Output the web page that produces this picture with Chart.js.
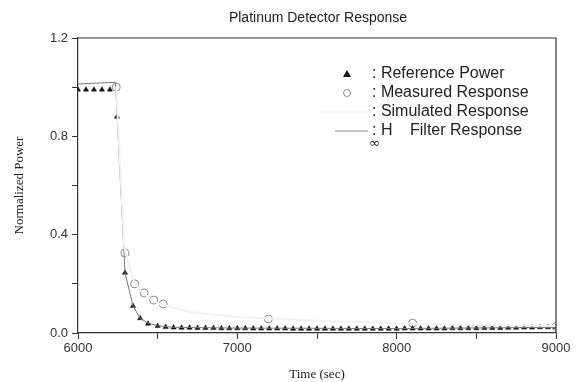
<!DOCTYPE html>
<html>
<head>
<meta charset="utf-8">
<script src="https://cdn.jsdelivr.net/npm/chart.js@4"></script>
<style>
  html, body { margin: 0; padding: 0; background: #fff; }
</style>
</head>
<body>
<canvas id="chart" width="579" height="382"></canvas>
<script>
// Reference power (triangles)
const refTime = [6000, 6050, 6100, 6150, 6200, 6245, 6295, 6345, 6390, 6440, 6500,
  6550, 6600, 6650, 6700, 6750, 6800, 6850, 6900, 6950, 7000,
  7050, 7100, 7150, 7200, 7250, 7300, 7350, 7400, 7450, 7500,
  7550, 7600, 7650, 7700, 7750, 7800, 7850, 7900, 7950, 8000,
  8050, 8100, 8150, 8200, 8250, 8300, 8350, 8400, 8450, 8500,
  8550, 8600, 8650, 8700, 8750, 8800, 8850, 8900, 8950, 9000]
const refPower = [0.99, 0.99, 0.99, 0.99, 0.99, 0.88, 0.245, 0.11, 0.06, 0.038, 0.028,
  0.024, 0.022, 0.021, 0.021, 0.02, 0.02, 0.02, 0.019, 0.019, 0.019,
  0.019, 0.018, 0.018, 0.018, 0.018, 0.018, 0.017, 0.017, 0.017, 0.017,
  0.017, 0.017, 0.017, 0.017, 0.017, 0.017, 0.017, 0.017, 0.017, 0.017,
  0.018, 0.018, 0.018, 0.018, 0.018, 0.018, 0.019, 0.019, 0.019, 0.019,
  0.02, 0.02, 0.02, 0.021, 0.021, 0.022, 0.022, 0.023, 0.023, 0.024]

// Measured response (open circles)
const measTime = [6240, 6295, 6355, 6415, 6475, 6535, 7195, 8100, 9000]
const measPower = [1.0, 0.325, 0.2, 0.163, 0.134, 0.118, 0.057, 0.04, 0.026]

// Simulated response (very faint line)
const simTime = [6240, 6290, 6350, 6400, 6500, 6700, 7000, 7500, 8000, 8500, 9000]
const simPower = [1.0, 0.35, 0.21, 0.165, 0.12, 0.085, 0.065, 0.05, 0.04, 0.033, 0.028]

// H-infinity filter response (solid gray line)
const filterTime = [6000, 6235, 6295, 6345, 6390, 6440, 6500, 6600, 7000, 8000, 9000]
const filterPower = [1.013, 1.02, 0.245, 0.11, 0.06, 0.04, 0.03, 0.023, 0.02, 0.018, 0.023]

const xTicks = [6000, 7000, 8000, 9000]
const yTicks = [0.0, 0.4, 0.8, 1.2]

const pts = (xs, ys) => xs.map((x, i) => ({ x: x, y: ys[i] }))

const frame = {
  id: "frame",
  afterDatasetsDraw(chart) {
    const { ctx, chartArea: a } = chart
    ctx.save()
    ctx.strokeStyle = "#333"
    ctx.lineWidth = 1.2
    ctx.beginPath()
    ctx.moveTo(a.left, a.top)
    ctx.lineTo(a.right, a.top)
    ctx.lineTo(a.right, a.bottom)
    ctx.stroke()

    // title
    ctx.fillStyle = "#222"
    ctx.font = "14px 'Liberation Sans', Arial, sans-serif"
    ctx.textAlign = "center"
    ctx.textBaseline = "middle"
    ctx.fillText("Platinum Detector Response", 318, 18)

    // legend
    ctx.font = "16px 'Liberation Sans', Arial, sans-serif"
    ctx.textAlign = "left"
    ctx.fillStyle = "#111"
    ctx.beginPath()
    ctx.moveTo(347, 70)
    ctx.lineTo(351, 77)
    ctx.lineTo(343, 77)
    ctx.closePath()
    ctx.fill()
    ctx.fillStyle = "#222"
    ctx.fillText(": Reference Power", 372, 74)

    ctx.strokeStyle = "#888"
    ctx.lineWidth = 1
    ctx.beginPath()
    ctx.arc(347, 93, 3.5, 0, Math.PI * 2)
    ctx.stroke()
    ctx.fillText(": Measured Response", 372, 93)

    ctx.strokeStyle = "#f4f4f4"
    ctx.lineWidth = 2
    ctx.beginPath()
    ctx.moveTo(320, 112)
    ctx.lineTo(368, 112)
    ctx.stroke()
    ctx.fillText(": Simulated Response", 372, 112)

    ctx.strokeStyle = "#888"
    ctx.lineWidth = 1
    ctx.beginPath()
    ctx.moveTo(335, 131)
    ctx.lineTo(368, 131)
    ctx.stroke()
    ctx.fillText(": H", 372, 131)
    ctx.fillText("Filter Response", 410, 131)
    ctx.font = "13px 'DejaVu Sans', sans-serif"
    ctx.fillText("\u221E", 369, 144)
    ctx.restore()
  }
}

new Chart(document.getElementById("chart"), {
  type: "scatter",
  data: {
    datasets: [
      {
        label: "Simulated Response",
        data: pts(simTime, simPower),
        showLine: true,
        borderColor: "#f2f2f2",
        borderWidth: 2,
        pointRadius: 0
      },
      {
        label: "Filter Response",
        data: pts(filterTime, filterPower),
        showLine: true,
        borderColor: "#7a7a7a",
        borderWidth: 1,
        pointRadius: 0
      },
      {
        label: "Reference Power",
        data: pts(refTime, refPower),
        pointStyle: "triangle",
        pointRadius: 3,
        backgroundColor: "#111",
        borderColor: "#111",
        borderWidth: 0.5
      },
      {
        label: "Measured Response",
        data: pts(measTime, measPower),
        pointStyle: "circle",
        pointRadius: 4,
        backgroundColor: "rgba(255,255,255,0)",
        borderColor: "#8a8a8a",
        borderWidth: 1
      }
    ]
  },
  options: {
    responsive: false,
    animation: false,
    layout: { padding: { top: 38, right: 23, left: 0, bottom: 0 } },
    plugins: {
      legend: { display: false },
      title: { display: false },
      tooltip: { enabled: false }
    },
    scales: {
      x: {
        type: "linear",
        min: 6000,
        max: 9000,
        afterFit(scale) { scale.height = 49 },
        afterBuildTicks(scale) {
          const t = []
          for (let v = 6000; v <= 9000; v += 500) t.push({ value: v })
          scale.ticks = t
        },
        ticks: {
          color: "#333",
          font: { family: "'Liberation Sans', Arial, sans-serif", size: 13 },
          padding: 2,
          maxRotation: 0,
          callback: (v) => (xTicks.includes(v) ? String(v) : "")
        },
        grid: { drawOnChartArea: false, color: "#333", tickLength: 6 },
        border: { color: "#333", width: 1.2 },
        title: {
          display: true,
          text: "Time (sec)",
          color: "#222",
          font: { family: "'Liberation Serif', 'Times New Roman', serif", size: 13 },
          padding: { top: 0, bottom: 0 }
        }
      },
      y: {
        min: 0,
        max: 1.2,
        afterFit(scale) { scale.width = 78 },
        afterBuildTicks(scale) {
          scale.ticks = [0, 0.2, 0.4, 0.6, 0.8, 1.0, 1.2].map((v) => ({ value: v }))
        },
        ticks: {
          color: "#333",
          font: { family: "'Liberation Sans', Arial, sans-serif", size: 13 },
          padding: 4,
          callback: (v) => (yTicks.some((t) => Math.abs(t - v) < 1e-6) ? v.toFixed(1) : "")
        },
        grid: { drawOnChartArea: false, color: "#333", tickLength: 6 },
        border: { color: "#333", width: 1.2 },
        title: {
          display: true,
          text: "Normalized Power",
          color: "#222",
          font: { family: "'Liberation Serif', 'Times New Roman', serif", size: 13 },
          padding: { top: 12, bottom: 0 }
        }
      }
    }
  },
  plugins: [frame]
})
</script>
</body>
</html>
